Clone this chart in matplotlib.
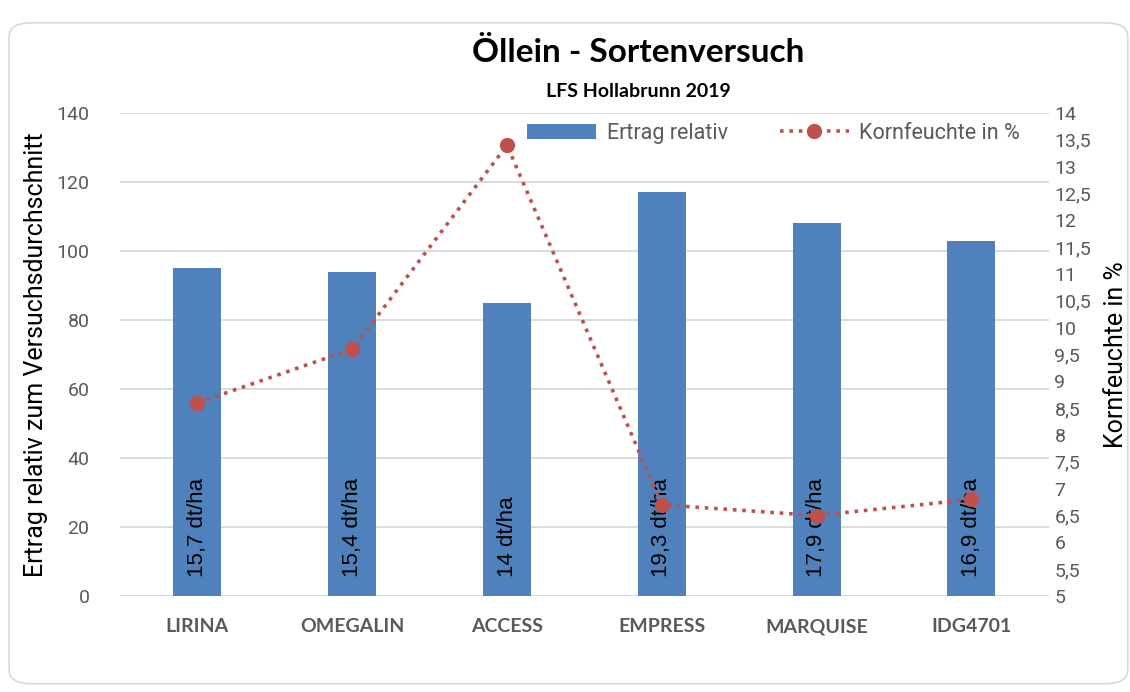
import matplotlib.pyplot as plt
from matplotlib.patches import FancyBboxPatch

sorten = ["LIRINA", "OMEGALIN", "ACCESS", "EMPRESS", "MARQUISE", "IDG4701"]
ertrag_relativ = [95, 94, 85, 117, 108, 103]
kornfeuchte = [8.6, 9.6, 13.4, 6.7, 6.5, 6.8]
ertrag_label = ["15,7 dt/ha", "15,4 dt/ha", "14 dt/ha", "19,3 dt/ha", "17,9 dt/ha", "16,9 dt/ha"]

left_ticks = list(range(0, 141, 20))
right_ticks = [5 + 0.5 * i for i in range(19)]

BAR = "#4f81bd"
LINE = "#c0504d"
GRID = "#d9d9d9"
TXT = "#595959"
NARROW = "Roboto"


def komma(v):
    s = ("%g" % v)
    return s.replace(".", ",")


def main():
    fig = plt.figure(figsize=(11.3, 6.92), dpi=100)

    # rounded frame like the excel chart area
    frame = FancyBboxPatch((0.008, 0.012), 0.99, 0.955,
                           boxstyle="round,pad=0,rounding_size=0.02",
                           transform=fig.transFigure, facecolor="white",
                           edgecolor="#d9d9d9", linewidth=1.2, zorder=-10)
    fig.patches.append(frame)

    ax = fig.add_axes([0.1062, 0.1387, 0.822, 0.698])
    ax.set_facecolor("none")
    x = list(range(len(sorten)))

    ax.bar(x, ertrag_relativ, width=0.31, color=BAR, zorder=2, label="Ertrag relativ")
    for i, lab in enumerate(ertrag_label):
        ax.text(x[i], 5.5, lab, rotation=90, ha="center", va="bottom",
                fontsize=16, family="Liberation Sans", color="black", zorder=5)

    ax.set_ylim(0, 140)
    ax.set_xlim(-0.5, len(sorten) - 0.5)
    ax.set_yticks(left_ticks)
    ax.set_yticklabels([str(t) for t in left_ticks], family=NARROW, fontsize=14, color=TXT)
    ax.set_xticks(x)
    ax.set_xticklabels(sorten, family="Lato", fontsize=14, fontweight="bold", color=TXT)
    ax.tick_params(length=0, pad=16)
    ax.tick_params(axis="y", pad=22)
    ax.grid(axis="y", color=GRID, linewidth=1.3, zorder=0)
    for s in ax.spines.values():
        s.set_visible(False)
    ax.set_ylabel("Ertrag relativ zum Versuchsdurchschnitt", family=NARROW,
                  fontsize=18, color="black", labelpad=6)

    ax2 = ax.twinx()
    ax2.plot(x, kornfeuchte, linestyle=(0, (1, 1.6)), linewidth=2.6, color=LINE,
             marker="o", markersize=10, zorder=4, label="Kornfeuchte in %")
    ax2.set_ylim(5, 14)
    ax2.set_yticks(right_ticks)
    ax2.set_yticklabels([komma(t) for t in right_ticks], family=NARROW, fontsize=14, color=TXT)
    ax2.tick_params(length=0, pad=4)
    for s in ax2.spines.values():
        s.set_visible(False)
    ax2.set_ylabel("Kornfeuchte in %", family=NARROW, fontsize=18, color="black", labelpad=9)

    h1, l1 = ax.get_legend_handles_labels()
    h2, l2 = ax2.get_legend_handles_labels()
    leg = ax2.legend(h1 + h2, l1 + l2, loc="upper right", bbox_to_anchor=(0.99, 1.02),
                     ncol=2, frameon=False, handlelength=3.2, columnspacing=2.4,
                     handletextpad=0.5, prop={"family": NARROW, "size": 15.5})
    for t in leg.get_texts():
        t.set_color(TXT)

    fig.text(0.565, 0.925, "Öllein - Sortenversuch", ha="center", va="center",
             family="Lato", fontweight="bold", fontsize=24)
    fig.text(0.565, 0.868, "LFS Hollabrunn 2019", ha="center", va="center",
             family="Lato", fontweight="bold", fontsize=14)

    fig.savefig("out.png", dpi=100)


if __name__ == "__main__":
    main()
